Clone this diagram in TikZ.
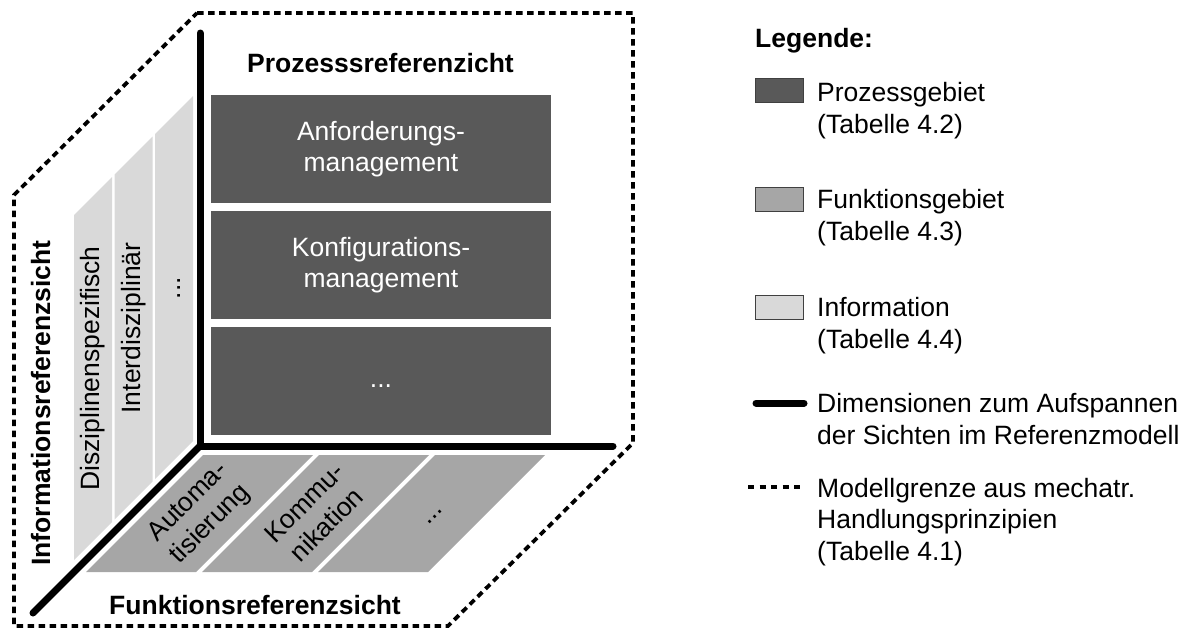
\documentclass[tikz,border=0pt]{standalone}
\usepackage{fontspec}
\setmainfont{Liberation Sans}
\definecolor{dunkel}{RGB}{89,89,89}
\definecolor{mittel}{RGB}{166,166,166}
\definecolor{hell}{RGB}{217,217,217}

\begin{document}
\begin{tikzpicture}[x=1pt, y=-1pt,
    txt/.style = {font=\fontsize{26.5}{31.3}\selectfont, inner sep=0pt, align=center},
    bold/.style = {txt, font=\fontsize{26.5}{31.3}\selectfont\bfseries},
    prozess/.style = {txt, fill=dunkel, text=white, minimum width=340, minimum height=108},
    funktion/.style = {fill=mittel},
    info/.style = {fill=hell},
    achse/.style = {line width=7pt, line cap=round},
    grenze/.style = {line width=3.8pt, dash pattern=on 6.5pt off 4.5pt},
    legbox/.style = {draw=black!75, line width=1.2pt, minimum width=48, minimum height=24, inner sep=0pt, anchor=north west}]
      \useasboundingbox (0,0) rectangle (1191,632);

      \foreach \x in {74,114.5,155}
        \fill[info] (\x,{289-\x}) -- ({\x+38},{251-\x}) -- ({\x+38},{596-\x}) -- (\x,{634-\x}) -- cycle;

      \foreach \x in {86,202,318}
        \fill[funktion] (\x,572) -- ({\x+110},572) -- ({\x+227},455) -- ({\x+117},455) -- cycle;

      \node[prozess](p1) at (381,149) {Anforderungs-\\management};
      \node[prozess](p2) at (381,265) {Konfigurations-\\management};
      \node[prozess](p3) at (381,381) {...\strut};

      \node[txt, rotate=90](i1) at (93,368.5) {Disziplinenspezifisch};
      \node[txt, rotate=90](i2) at (133.5,328) {Interdisziplinär};
      \node[txt, rotate=90](i3) at (174,288) {...\strut};

      \node[txt, rotate=45](f1) at (199.5,513.5) {Automa-\\tisierung};
      \node[txt, rotate=45](f2) at (315.5,513.5) {Kommu-\\nikation};
      \node[txt, rotate=45](f3) at (431.5,513.5) {...\strut};

      \node[bold, anchor=base](ps) at (380.5,72) {Prozesssreferenzicht};
      \node[bold, anchor=base](fs) at (255,614) {Funktionsreferenzsicht};
      \node[bold, anchor=base, rotate=90](is) at (50,403) {Informationsreferenzsicht};

      \coordinate (o) at (200,446);
      \coordinate (oben) at (200,33);
      \coordinate (rechts) at (613,446);
      \coordinate (links) at (33,613);
      \draw[achse] (oben) -- (o) -- (rechts);
      \draw[achse] (o) -- (links);

      \draw[grenze] (197,13) -- (633,13) -- (633,443) -- (448,626) -- (14,626) -- (14,195) -- cycle;

      \node[bold, anchor=base west](leg) at (755,47) {Legende:};

      \node[legbox, fill=dunkel](l1) at (755,78) {};
      \node[legbox, fill=mittel](l2) at (755,187) {};
      \node[legbox, fill=hell](l3) at (755,295) {};
      \coordinate (d1) at (756,403);
      \coordinate (d2) at (804,403);
      \coordinate (g1) at (748,487);
      \coordinate (g2) at (801,487);
      \draw[achse] (d1) -- (d2);
      \draw[line width=3.5pt, dash pattern=on 6pt off 5.5pt] (g1) -- (g2);

      \node[txt, align=left, anchor=base west](t1) at (817,133) {Prozessgebiet\\(Tabelle 4.2)};
      \node[txt, align=left, anchor=base west](t2) at (817,240) {Funktionsgebiet\\(Tabelle 4.3)};
      \node[txt, align=left, anchor=base west](t3) at (817,348) {Information\\(Tabelle 4.4)};
      \node[txt, align=left, anchor=base west](t4) at (817,444) {Dimensionen zum Aufspannen\\der Sichten im Referenzmodell};
      \node[txt, align=left, anchor=base west](t5) at (817,560) {Modellgrenze aus mechatr.\\Handlungsprinzipien\\(Tabelle 4.1)};
    \end{tikzpicture}
\end{document}
